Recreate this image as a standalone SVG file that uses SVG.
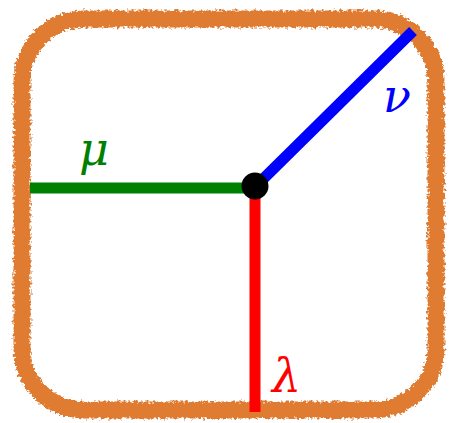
<svg xmlns="http://www.w3.org/2000/svg" width="452" height="423" viewBox="0 0 452 423">
<style>
.frame{fill:none;stroke:#e07b30;stroke-width:17}
.edge{fill:none;stroke-width:11}
.lbl{font-family:"DejaVu Serif","Liberation Serif",serif;font-style:italic;font-size:46px}
</style>
<defs>
<filter id="rough" x="-5%" y="-5%" width="110%" height="110%">
<feTurbulence type="fractalNoise" baseFrequency="0.35" numOctaves="2" seed="3" result="n"/>
<feDisplacementMap in="SourceGraphic" in2="n" scale="7" xChannelSelector="R" yChannelSelector="G"/>
</filter>
</defs>
<g id="frame"><rect class="frame" x="22" y="19" width="414" height="391" rx="62" ry="62" filter="url(#rough)"/></g>
<g id="connectors">
<line class="edge" stroke="#008000" x1="30" y1="188" x2="255" y2="188"/>
<line class="edge" stroke="#0000ff" x1="255" y1="187" x2="413" y2="31"/>
<line class="edge" stroke="#ff0000" x1="255" y1="187" x2="255" y2="412"/>
</g>
<g id="center"><circle cx="255" cy="186" r="13.5" fill="#000"/></g>
<g id="labels">
<text class="lbl" x="79" y="165" fill="#008000">μ</text>
<text class="lbl" x="383" y="112" fill="#0000ff">ν</text>
<text class="lbl" x="272" y="392" fill="#ff0000">λ</text>
</g>
</svg>
